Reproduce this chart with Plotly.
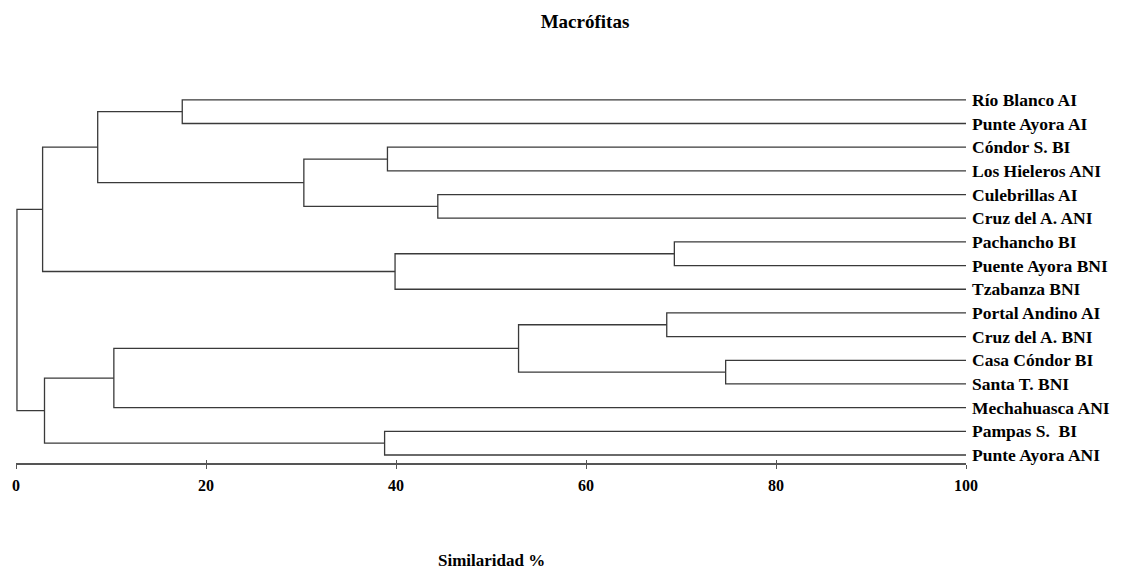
import plotly.graph_objects as go

# ---- data ----
leaves = ["Río Blanco AI", "Punte Ayora AI", "Cóndor S. BI", "Los Hieleros ANI",
          "Culebrillas AI", "Cruz del A. ANI", "Pachancho BI", "Puente Ayora BNI",
          "Tzabanza BNI", "Portal Andino AI", "Cruz del A. BNI", "Casa Cóndor BI",
          "Santa T. BNI", "Mechahuasca ANI", "Pampas S.  BI", "Punte Ayora ANI"]
# merges: (child_a, child_b, similarity %); ids 0-15 are leaves, new clusters numbered from 16
merge_a = [0, 2, 4, 17, 16, 6, 21, 20, 9, 11, 24, 26, 14, 27, 23]
merge_b = [1, 3, 5, 18, 19, 7, 8, 22, 10, 12, 25, 13, 15, 28, 29]
merge_sim = [17.5, 39.1, 44.4, 30.3, 8.6, 69.3, 39.9, 2.8, 68.5, 74.7, 52.9, 10.3, 38.8, 3.0, 0.1]
x_ticks = [0, 20, 40, 60, 80, 100]

# ---- build dendrogram path ----
n = len(leaves)
ypos = {i: n - 1 - i for i in range(n)}
hpos = {i: 100.0 for i in range(n)}
xs, ys = [], []
for k, (a, b, s) in enumerate(zip(merge_a, merge_b, merge_sim)):
    node = n + k
    xs += [hpos[a], s, s, hpos[b], None]
    ys += [ypos[a], ypos[a], ypos[b], ypos[b], None]
    ypos[node] = (ypos[a] + ypos[b]) / 2
    hpos[node] = s

line_color = "#3a3a3a"
font_family = "Liberation Serif, Times New Roman, serif"

fig = go.Figure()
fig.add_trace(go.Scatter(x=xs, y=ys, mode="lines",
                         line=dict(color=line_color, width=1.3),
                         hoverinfo="skip", showlegend=False, cliponaxis=False))
# invisible trace for the overlay tick axis
fig.add_trace(go.Scatter(x=[0, 100], y=[0, 0], xaxis="x2", mode="markers",
                         marker=dict(opacity=0), hoverinfo="skip", showlegend=False))

fig.update_layout(
    width=1124, height=569,
    margin=dict(l=16, r=158, t=88, b=106),
    paper_bgcolor="white", plot_bgcolor="white",
    title=dict(text="<b>Macrófitas</b>", x=585 / 1124, xanchor="center",
               y=1 - 21 / 569, yanchor="middle",
               font=dict(family=font_family, size=19, color="black")),
    xaxis=dict(range=[0, 100], tickvals=x_ticks,
               ticktext=[f"<b>{t}</b>" for t in x_ticks],
               showgrid=False, zeroline=False, showline=True,
               linecolor="#555555", linewidth=1.5,
               ticks="outside", ticklen=4, tickcolor="#555555", tickwidth=1,
               ticklabelstandoff=3,
               tickfont=dict(family=font_family, size=16, color="black")),
    xaxis2=dict(range=[0, 100], overlaying="x", anchor="y", side="bottom",
                tickvals=x_ticks, showticklabels=False, showgrid=False,
                zeroline=False, showline=False,
                ticks="inside", ticklen=3, tickcolor="#555555", tickwidth=1),
    yaxis=dict(range=[-0.338, 15.5], side="right",
               tickvals=[n - 1 - i for i in range(n)],
               ticktext=[f"<b>{t}</b>" for t in leaves],
               showgrid=False, zeroline=False, showline=False, ticks="",
               ticklabelstandoff=5,
               tickfont=dict(family=font_family, size=17.5, color="black")),
    annotations=[dict(text="<b>Similaridad %</b>", xref="paper", yref="paper",
                      x=0.5, y=-(560 - 463) / 375, xanchor="center", yanchor="middle",
                      showarrow=False,
                      font=dict(family=font_family, size=17, color="black"))],
)

fig.write_html("out.html")
